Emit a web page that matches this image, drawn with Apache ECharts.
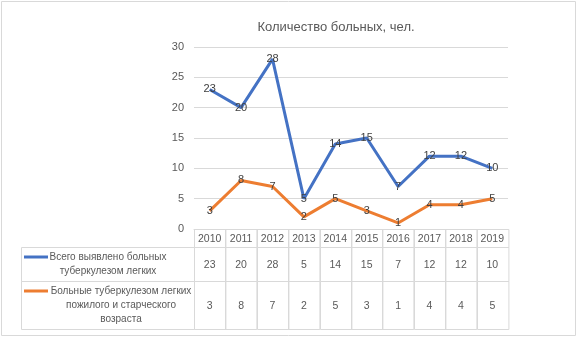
<!DOCTYPE html>
<html>
<head>
<meta charset="utf-8">
<script src="https://cdn.jsdelivr.net/npm/echarts@6/dist/echarts.min.js"></script>
<style>
  html, body { margin: 0; padding: 0; background: #fff; }
  #chart { width: 578px; height: 338px; }
</style>
</head>
<body>
<div id="chart"></div>
<script>
// данные
const years = ['2010', '2011', '2012', '2013', '2014', '2015', '2016', '2017', '2018', '2019'];
const totalCases = [23, 20, 28, 5, 14, 15, 7, 12, 12, 10];
const elderlyCases = [3, 8, 7, 2, 5, 3, 1, 4, 4, 5];
const seriesNames = [
  'Всего выявлено больных\nтуберкулезом легких',
  'Больные туберкулезом легких\nпожилого и старческого\nвозраста'
];
const yTicks = { min: 0, max: 30, interval: 5 };

// оформление
const FONT = '"Liberation Sans", Arial, sans-serif';
const TEXT = '#595959';
const GRIDLINE = '#d9d9d9';
const COLORS = ['#4472C4', '#ED7D31'];
const rowEdges = [0, 18, 52, 100];     // высоты строк таблицы, px
const labelColWidth = 173;
const labelTextOffset = [0, 86, 73];   // центр подписи ряда от левого края сетки

const chart = echarts.init(document.getElementById('chart'));

// ячейки таблицы данных
const tableData = [];
years.forEach((y, i) => {
  tableData.push([i, 0, y]);
  tableData.push([i, 1, totalCases[i]]);
  tableData.push([i, 2, elderlyCases[i]]);
});
tableData.push([-1, 1, seriesNames[0]]);
tableData.push([-1, 2, seriesNames[1]]);

function renderCell(params, api) {
  const col = api.value(0);
  const row = api.value(1);
  const text = String(tableData[params.dataIndex][2]);
  const cs = params.coordSys;
  const top = api.coord([0, rowEdges[row]])[1];
  const bottom = api.coord([0, rowEdges[row + 1]])[1];
  const h = bottom - top;
  if (col === -1) {
    const x0 = cs.x - labelColWidth;
    const lines = text.split('\n').length;
    const firstLineY = (top + bottom) / 2 - (lines - 1) * 14 / 2;
    return {
      type: 'group',
      children: [
        { type: 'rect', shape: { x: x0 + 0.5, y: top + 0.5, width: labelColWidth, height: h },
          style: { fill: 'none', stroke: GRIDLINE, lineWidth: 1 } },
        { type: 'line', shape: { x1: x0 + 3, y1: firstLineY, x2: x0 + 27, y2: firstLineY },
          style: { stroke: COLORS[row - 1], lineWidth: 3 } },
        { type: 'text', x: cs.x - labelTextOffset[row], y: (top + bottom) / 2,
          style: { text: text, fill: TEXT, font: '10px ' + FONT, align: 'center',
                   verticalAlign: 'middle', lineHeight: 14 } }
      ]
    };
  }
  const bw = api.size([1, 0])[0];
  const cx = api.coord([col, 0])[0];
  return {
    type: 'group',
    children: [
      { type: 'rect', shape: { x: Math.round(cx - bw / 2) + 0.5, y: top + 0.5, width: bw, height: h },
        style: { fill: 'none', stroke: GRIDLINE, lineWidth: 1 } },
      { type: 'text', x: cx, y: (top + bottom) / 2 + 1,
        style: { text: text, fill: TEXT, font: '10.5px ' + FONT, align: 'center', verticalAlign: 'middle' } }
    ]
  };
}

const lineSeries = (name, data, color) => ({
  name: name,
  type: 'line',
  data: data,
  xAxisIndex: 0,
  yAxisIndex: 0,
  symbol: 'circle',
  symbolSize: 0,
  showSymbol: true,
  lineStyle: { color: color, width: 3 },
  itemStyle: { color: color },
  label: { show: true, position: 'inside', color: '#404040', fontSize: 11, fontFamily: FONT },
  z: 3
});

const option = {
  animation: false,
  title: {
    text: 'Количество больных, чел.',
    left: 331,
    top: 16,
    textAlign: 'center',
    textStyle: { color: TEXT, fontSize: 13, fontWeight: 'normal', fontFamily: FONT }
  },
  graphic: [{
    type: 'rect',
    shape: { x: 1.5, y: 1.5, width: 574, height: 334 },
    style: { fill: 'none', stroke: GRIDLINE, lineWidth: 1 },
    silent: true
  }],
  grid: [
    { left: 194, right: 70, top: 47, height: 182 },
    { left: 194, right: 70, top: 229, height: 100 }
  ],
  xAxis: [
    { type: 'category', gridIndex: 0, data: years, boundaryGap: true,
      axisLine: { lineStyle: { color: GRIDLINE } }, axisTick: { show: false },
      axisLabel: { show: false } },
    { type: 'category', gridIndex: 1, data: years, boundaryGap: true, show: false }
  ],
  yAxis: [
    { type: 'value', gridIndex: 0, min: yTicks.min, max: yTicks.max, interval: yTicks.interval,
      axisLine: { show: false }, axisTick: { show: false },
      axisLabel: { color: TEXT, fontSize: 11, fontFamily: FONT, margin: 10 },
      splitLine: { lineStyle: { color: GRIDLINE } } },
    { type: 'value', gridIndex: 1, min: 0, max: 100, inverse: true, show: false }
  ],
  series: [
    lineSeries(seriesNames[0], totalCases, COLORS[0]),
    lineSeries(seriesNames[1], elderlyCases, COLORS[1]),
    {
      type: 'custom',
      xAxisIndex: 1,
      yAxisIndex: 1,
      renderItem: renderCell,
      data: tableData.map(d => [d[0], d[1]]),
      clip: false,
      silent: true
    }
  ]
};

chart.setOption(option);
</script>
</body>
</html>
